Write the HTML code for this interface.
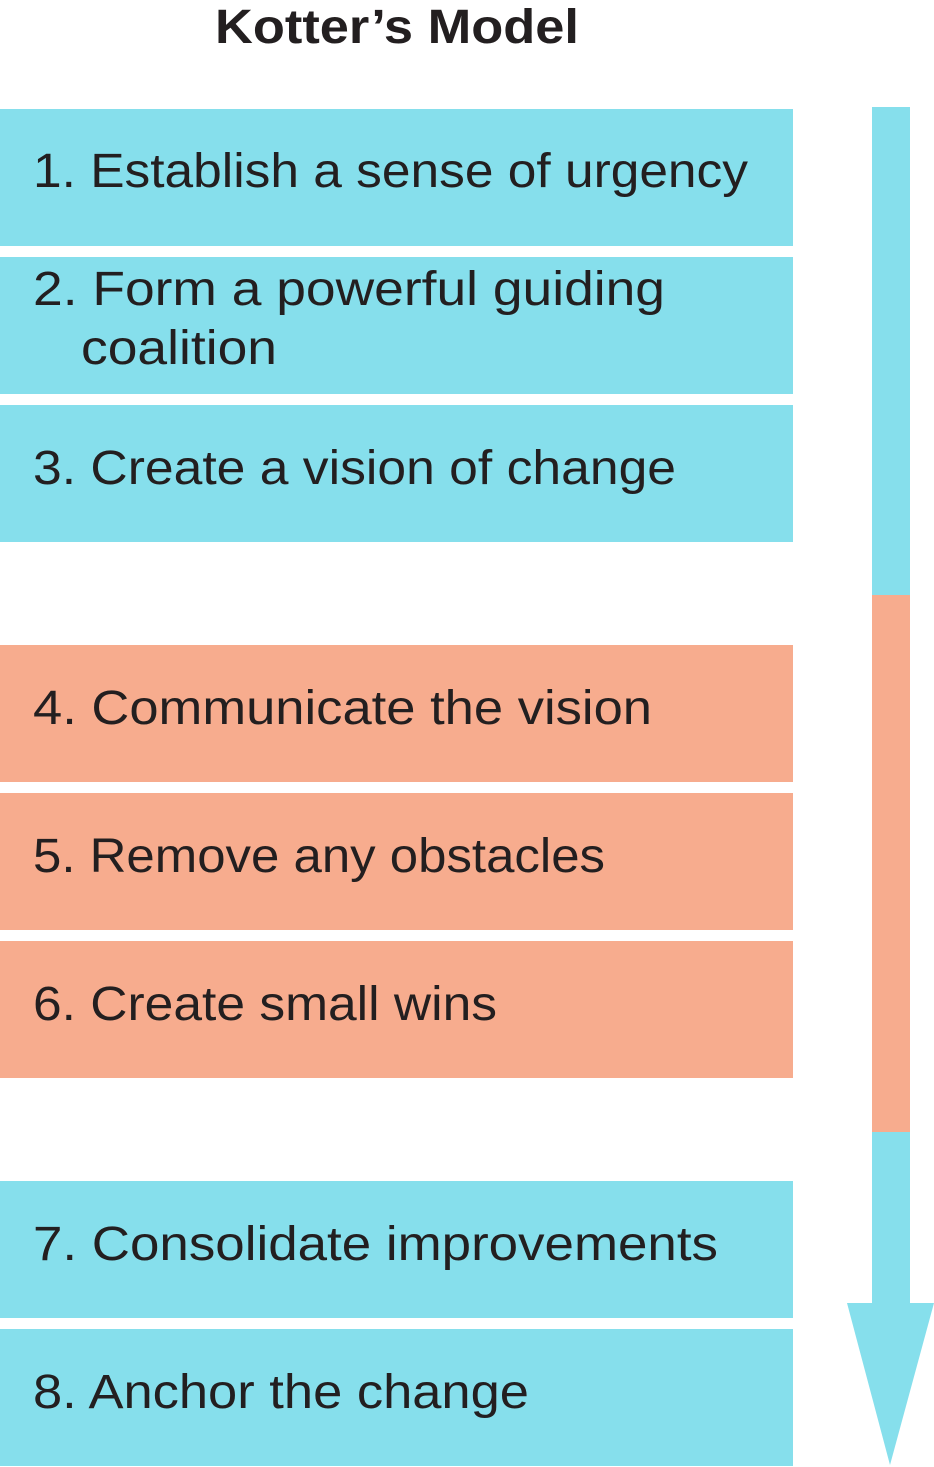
<!DOCTYPE html>
<html><head><meta charset="utf-8"><style>
html,body{margin:0;padding:0;background:#fff;}
svg{display:block;}
text{font-family:"Liberation Sans",sans-serif;fill:#231f20;font-size:48px;}
</style></head><body>
<svg width="934" height="1467" viewBox="0 0 934 1467" xmlns="http://www.w3.org/2000/svg">
<text x="215" y="43" font-weight="bold" font-size="47" textLength="364" lengthAdjust="spacingAndGlyphs">Kotter’s Model</text>
<g fill="#86dfec">
<rect x="0" y="109" width="793" height="137"/>
<rect x="0" y="257" width="793" height="137"/>
<rect x="0" y="405" width="793" height="137"/>
<rect x="0" y="1181" width="793" height="137"/>
<rect x="0" y="1329" width="793" height="137"/>
</g>
<g fill="#f7ac8e">
<rect x="0" y="645" width="793" height="137"/>
<rect x="0" y="793" width="793" height="137"/>
<rect x="0" y="941" width="793" height="137"/>
</g>
<rect x="872" y="107" width="38" height="489" fill="#86dfec"/>
<rect x="872" y="595" width="38" height="538" fill="#f7ac8e"/>
<rect x="872" y="1132" width="38" height="172" fill="#86dfec"/>
<polygon points="847,1303 934,1303 890,1465" fill="#86dfec"/>
<text x="33" y="187" textLength="715" lengthAdjust="spacingAndGlyphs">1. Establish a sense of urgency</text>
<text x="33" y="305" textLength="632" lengthAdjust="spacingAndGlyphs">2. Form a powerful guiding</text>
<text x="81" y="364" textLength="196" lengthAdjust="spacingAndGlyphs">coalition</text>
<text x="33" y="484" textLength="643" lengthAdjust="spacingAndGlyphs">3. Create a vision of change</text>
<text x="33" y="724" textLength="619" lengthAdjust="spacingAndGlyphs">4. Communicate the vision</text>
<text x="33" y="872" textLength="572" lengthAdjust="spacingAndGlyphs">5. Remove any obstacles</text>
<text x="33" y="1020" textLength="464" lengthAdjust="spacingAndGlyphs">6. Create small wins</text>
<text x="33" y="1260" textLength="685" lengthAdjust="spacingAndGlyphs">7. Consolidate improvements</text>
<text x="33" y="1408" textLength="496" lengthAdjust="spacingAndGlyphs">8. Anchor the change</text>
</svg>
</body></html>
